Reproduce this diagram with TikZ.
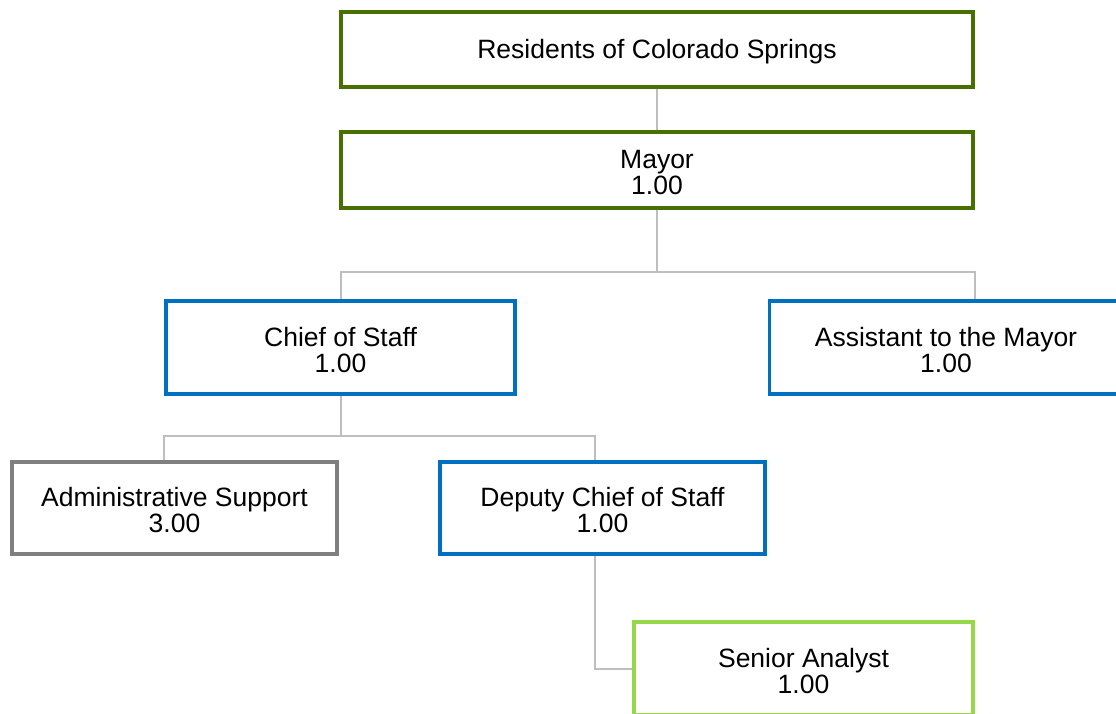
\documentclass[tikz,border=0pt]{standalone}
\usepackage{fontspec}
\setmainfont{Liberation Sans}
\definecolor{dkgreen}{RGB}{72,112,0}
\definecolor{midblue}{RGB}{0,112,192}
\definecolor{boxgray}{RGB}{127,127,127}
\definecolor{ltgreen}{RGB}{150,216,72}
\definecolor{linegray}{RGB}{190,190,190}
\newcommand{\dn}{\rule{0pt}{23.6pt}}
\tikzset{
  orgbox/.style={draw, line width=3.7pt, fill=white, inner sep=0pt, align=center,
    font=\fontsize{26.5}{26}\selectfont},
  topbox/.style={orgbox, draw=dkgreen},
  bluebox/.style={orgbox, draw=midblue},
  graybox/.style={orgbox, draw=boxgray},
  greenbox/.style={orgbox, draw=ltgreen},
  conn/.style={draw=linegray, line width=2pt}
}
\begin{document}
\begin{tikzpicture}[x=1pt,y=-1pt]
\useasboundingbox (0,0) rectangle (1116,713);
\clip (0,0) rectangle (1116,713);
\coordinate (m1) at (0,272);
\coordinate (c1) at (0,436);
\coordinate (dx) at (595,0);
\node[topbox, minimum width=632pt, minimum height=75pt] (res) at (657,49.5) {\dn Residents of Colorado Springs};
\node[topbox, minimum width=632pt, minimum height=76pt] (mayor) at (657,170) {\dn Mayor\\1.00};
\node[bluebox, minimum width=349pt, minimum height=93pt] (chief) at (340.5,347.5) {\dn Chief of Staff\\1.00};
\node[bluebox, minimum width=353pt, minimum height=93pt] (asst) at (946,347.5) {\dn Assistant to the Mayor\\1.00};
\node[graybox, minimum width=325pt, minimum height=92pt] (admin) at (174.5,508) {\dn Administrative Support\\3.00};
\node[bluebox, minimum width=325pt, minimum height=92pt] (deputy) at (602.5,508) {\dn Deputy Chief of Staff\\1.00};
\node[greenbox, minimum width=339pt, minimum height=93pt] (senior) at (803.5,668.5) {\dn Senior Analyst\\1.00};
\draw[conn] (res.south) -- (mayor.north);
\draw[conn] (mayor.south) -- (mayor.south |- m1);
\draw[conn] (chief.north) |- (mayor.south east |- m1) -- (mayor.south east |- asst.north);
\draw[conn] (chief.south) -- (chief.south |- c1);
\draw[conn] (chief.west |- admin.north) |- (dx |- c1) -- (dx |- deputy.north);
\draw[conn] (dx |- deputy.south) |- (senior.west);
\end{tikzpicture}
\end{document}
